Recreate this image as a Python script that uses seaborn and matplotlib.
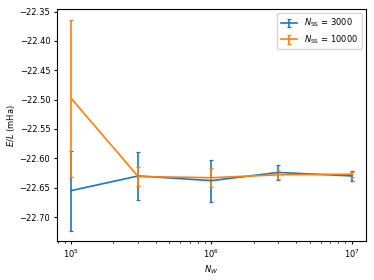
import numpy as np
import matplotlib
matplotlib.use("Agg")
import matplotlib.pyplot as plt
import seaborn as sns

# walker numbers
n_w = [1e5, 3e5, 1e6, 3e6, 1e7]

# N_SS = 3000
e_3000 = [-22.655, -22.630, -22.638, -22.624, -22.630]
err_3000 = [0.068, 0.041, 0.036, 0.013, 0.008]

# N_SS = 10000
e_10000 = [-22.498, -22.631, -22.633, -22.628, -22.627]
err_10000 = [0.134, 0.016, 0.016, 0.008, 0.004]

plt.rcParams['font.size'] = 6
plt.rcParams['xtick.major.size'] = 2.5
plt.rcParams['ytick.major.size'] = 2.5
plt.rcParams['xtick.minor.size'] = 1.5
plt.rcParams['xtick.major.pad'] = 2.5
plt.rcParams['ytick.major.pad'] = 2.5
colors = sns.color_palette("tab10")

fig, ax = plt.subplots(figsize=(3.74, 2.8), dpi=100)
ax.errorbar(n_w, e_3000, yerr=err_3000, color=colors[0], lw=1.2, elinewidth=1.2,
            capsize=1.5, capthick=0.9, label=r'$N_{\rm SS}$ = 3000')
ax.errorbar(n_w, e_10000, yerr=err_10000, color=colors[1], lw=1.2, elinewidth=1.2,
            capsize=1.5, capthick=0.9, label=r'$N_{\rm SS}$ = 10000')
ax.set_xscale('log')
ax.set_xlabel(r'$N_W$', labelpad=2)
ax.set_ylabel(r'$E/L$ (mHa)', labelpad=2)
ax.legend(loc='upper right')

plt.subplots_adjust(left=0.153, right=0.978, top=0.967, bottom=0.139)
plt.savefig('out.png', dpi=100)
